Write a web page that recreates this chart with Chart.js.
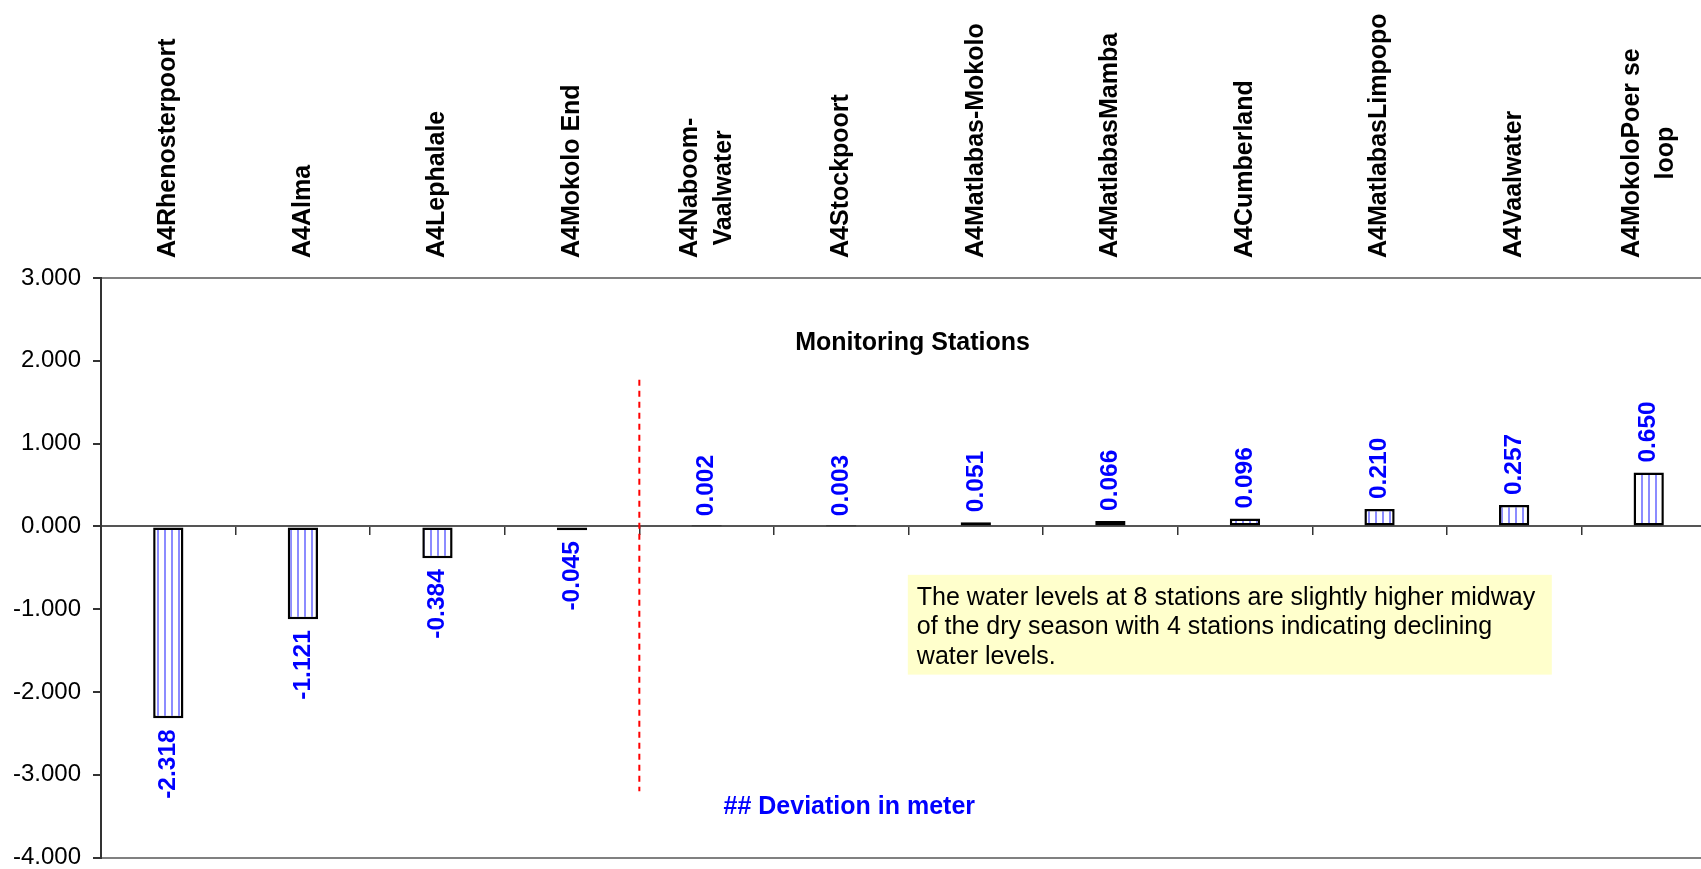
<!DOCTYPE html>
<html>
<head>
<meta charset="utf-8">
<title>Water level deviation - monitoring stations</title>
<script src="https://cdn.jsdelivr.net/npm/chart.js@4.4.1/dist/chart.umd.min.js"></script>
<style>
    html, body { margin: 0; padding: 0; background: #fff; overflow: hidden; }
    #wrap { width: 1701px; height: 869px; overflow: hidden; }
</style>
</head>
<body>
<div id="wrap"><canvas id="chart" width="1720" height="884"></canvas></div>
<script>
// Monitoring stations (categories)
const stations = [
    'A4Rhenosterpoort', 'A4Alma', 'A4Lephalale', 'A4Mokolo End',
    ['A4Naboom-', 'Vaalwater'], 'A4Stockpoort', 'A4Matlabas-Mokolo',
    'A4MatlabasMamba', 'A4Cumberland', 'A4MatlabasLimpopo', 'A4Vaalwater',
    ['A4MokoloPoer se', 'loop']
];

// Deviation in meter per station
const deviation = [-2.318, -1.121, -0.384, -0.045, 0.002, 0.003, 0.051, 0.066, 0.096, 0.210, 0.257, 0.650];

// Y axis ticks
const yTicks = [-4, -3, -2, -1, 0, 1, 2, 3];

// Text in the note box
const noteLines = [
    'The water levels at 8 stations are slightly higher midway',
    'of the dry season with 4 stations indicating declining',
    'water levels.'
];

const FONT = '"Liberation Sans", Arial, Helvetica, sans-serif';

// Vertical stripe fill for the bars
function stripePattern() {
    const c = document.createElement('canvas');
    c.width = 7;
    c.height = 7;
    const g = c.getContext('2d');
    g.fillStyle = '#ffffff';
    g.fillRect(0, 0, 7, 7);
    g.fillStyle = 'rgb(140, 140, 255)';
    g.fillRect(3, 0, 2, 7);
    return g.createPattern(c, 'repeat');
}

// Pixel for a fractional category position
function xAt(scale, pos) {
    const p0 = scale.getPixelForValue(0);
    const p1 = scale.getPixelForValue(1);
    return p0 + pos * (p1 - p0);
}

// Rotated station names above the plot
const stationLabels = {
    id: 'stationLabels',
    afterDraw(chart) {
        const { ctx, chartArea, scales: { x } } = chart;
        ctx.save();
        ctx.font = 'bold 25px ' + FONT;
        ctx.fillStyle = '#000';
        ctx.textAlign = 'center';
        ctx.textBaseline = 'middle';
        stations.forEach((name, i) => {
            const lines = Array.isArray(name) ? name : [name];
            const w = Math.max(...lines.map(l => ctx.measureText(l).width));
            const cx = x.getPixelForValue(i);
            const cy = chartArea.top - 20 - w / 2;
            lines.forEach((line, j) => {
                const off = (j - (lines.length - 1) / 2) * 34;
                ctx.save();
                ctx.translate(cx + off, cy);
                ctx.rotate(-Math.PI / 2);
                ctx.fillText(line, 0, 0);
                ctx.restore();
            });
        });
        ctx.restore();
    }
};

// Value labels at the end of each bar
const valueLabels = {
    id: 'valueLabels',
    afterDatasetsDraw(chart) {
        const ctx = chart.ctx;
        const meta = chart.getDatasetMeta(0);
        ctx.save();
        ctx.font = 'bold 24.5px ' + FONT;
        ctx.fillStyle = '#0000ff';
        ctx.textBaseline = 'middle';
        meta.data.forEach((bar, i) => {
            const v = deviation[i];
            ctx.save();
            ctx.translate(bar.x, v >= 0 ? bar.y - 10 : bar.y + 11);
            ctx.rotate(-Math.PI / 2);
            ctx.textAlign = v >= 0 ? 'left' : 'right';
            ctx.fillText(v.toFixed(3), 0, 0);
            ctx.restore();
        });
        ctx.restore();
    }
};

// Axis title, divider line, note box
const annotations = {
    id: 'annotations',
    afterDraw(chart) {
        const { ctx, scales: { x, y } } = chart;
        ctx.save();

        // red divider between declining and rising stations
        ctx.strokeStyle = '#ff0000';
        ctx.lineWidth = 2;
        ctx.setLineDash([6, 5]);
        ctx.beginPath();
        ctx.moveTo(xAt(x, 3.5), y.getPixelForValue(1.77));
        ctx.lineTo(xAt(x, 3.5), y.getPixelForValue(-3.2));
        ctx.stroke();
        ctx.setLineDash([]);

        ctx.textAlign = 'center';
        ctx.textBaseline = 'middle';
        ctx.font = 'bold 25px ' + FONT;
        ctx.fillStyle = '#000';
        ctx.fillText('Monitoring Stations', xAt(x, 5.53), y.getPixelForValue(2.21));
        ctx.fillStyle = '#0000ff';
        ctx.fillText('## Deviation in meter', xAt(x, 5.06), y.getPixelForValue(-3.39));

        // note box
        const left = xAt(x, 5.495);
        const right = xAt(x, 10.28);
        const top = y.getPixelForValue(-0.585);
        const bottom = y.getPixelForValue(-1.79);
        ctx.fillStyle = '#ffffcc';
        ctx.fillRect(left, top, right - left, bottom - top);
        ctx.fillStyle = '#000';
        ctx.font = '25px ' + FONT;
        ctx.textAlign = 'left';
        ctx.textBaseline = 'alphabetic';
        noteLines.forEach((line, i) => {
            ctx.fillText(line, left + 9, top + 30 + i * 29.5);
        });
        ctx.restore();
    }
};

const ctx = document.getElementById('chart').getContext('2d');
new Chart(ctx, {
    type: 'bar',
    data: {
        labels: stations,
        datasets: [{
            data: deviation,
            backgroundColor: stripePattern(),
            borderColor: '#000',
            borderWidth: 2.5,
            borderSkipped: false,
            barPercentage: 0.225,
            categoryPercentage: 1
        }]
    },
    options: {
        responsive: false,
        animation: false,
        layout: { padding: { top: 278, right: 4, left: 0, bottom: 0 } },
        plugins: {
            legend: { display: false },
            tooltip: { enabled: false }
        },
        scales: {
            x: {
                position: 'top',
                offset: true,
                grid: { display: false, drawTicks: false },
                border: { display: true, color: '#808080', width: 2 },
                ticks: { display: false }
            },
            x2: {
                type: 'category',
                position: { y: 0 },
                offset: true,
                grid: {
                    offset: true,
                    drawOnChartArea: false,
                    drawTicks: true,
                    tickLength: 8,
                    tickColor: '#333',
                    lineWidth: 1.5
                },
                border: { display: true, color: '#555', width: 2 },
                ticks: { display: false }
            },
            y: {
                min: -4,
                max: 3,
                afterBuildTicks: scale => { scale.ticks = yTicks.map(v => ({ value: v })); },
                afterFit: scale => { scale.width = 101; },
                grid: {
                    color: c => (c.tick && c.tick.value === -4) ? '#808080' : 'rgba(0,0,0,0)',
                    lineWidth: 2,
                    tickColor: '#333',
                    tickLength: 8,
                    drawTicks: true
                },
                border: { display: true, color: '#333', width: 2 },
                ticks: {
                    padding: 12,
                    color: '#000',
                    font: { family: FONT, size: 24 },
                    callback: v => v.toFixed(3)
                }
            }
        }
    },
    plugins: [stationLabels, valueLabels, annotations]
});
</script>
</body>
</html>
